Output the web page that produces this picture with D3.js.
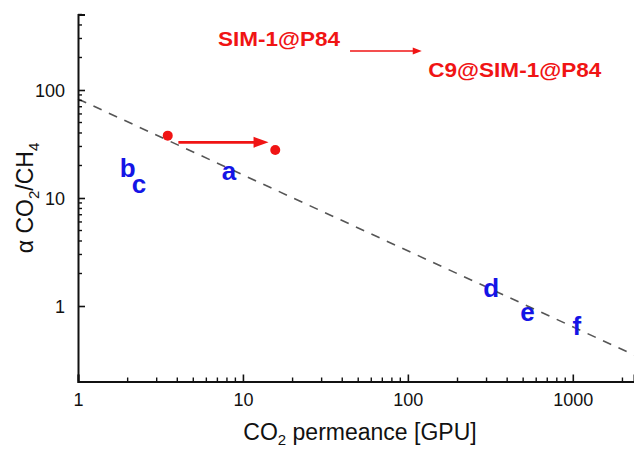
<!DOCTYPE html>
<html><head><meta charset="utf-8">
<script src="https://cdn.jsdelivr.net/npm/d3@7"></script>
<style>body{margin:0;background:#fff}svg{display:block}</style>
</head><body>
<svg id="chart" width="634" height="449"></svg>
<script>
// ---- data ----
const xDomain = [1, 2350];
const yDomain = [0.2, 500];
const xTickValues = [1, 10, 100, 1000];
const xTickLabels = ["1", "10", "100", "1000"];
const yTickValues = [1, 10, 100];
const yTickLabels = ["1", "10", "100"];
const xMinorTicks = [2,3,4,5,6,7,8,9,20,30,40,50,60,70,80,90,200,300,400,500,600,700,800,900,2000];
const yMinorTicks = [2,3,4,5,6,7,8,9,20,30,40,50,60,70,80,90,200,300,400,500];
// upper-bound trade-off line (dashed)
const trendP = [1, 2350];
const trendAlpha = [82.6, 0.352];
// SIM-1@P84 -> C9@SIM-1@P84 points
const pointP = [3.5, 15.7];
const pointAlpha = [37.8, 27.8];
const arrowP = [4.06, 14.3];
const arrowAlpha = [32.8, 32.8];
// literature labels
const labelNames = ["a", "b", "c", "d", "e", "f"];
const labelP = [8.24, 2.0, 2.34, 320, 532, 1057];
const labelAlpha = [14.7, 15.6, 11.1, 1.22, 0.72, 0.54];
// legend annotation
const legendFrom = "SIM-1@P84";
const legendTo = "C9@SIM-1@P84";
const legendFromPos = [7.06, 255];
const legendToPos = [133, 132.8];
const legendArrowP = [44.6, 121.4];
const legendArrowAlpha = [229.6, 229.6];

// ---- layout ----
const svg = d3.select("#chart");
const mLeft = 78, mRight = 634, mTop = 14.5, mBottom = 381.5;
const font = "'Liberation Sans', Arial, sans-serif";
const red = "#f01414";
const blue = "#1414e6";

const x = d3.scaleLog().domain(xDomain).range([mLeft, mRight]);
const y = d3.scaleLog().domain(yDomain).range([mBottom, mTop]);

// dashed trend line
const trend = trendP.map((p, i) => [p, trendAlpha[i]]);
svg.append("path")
  .attr("d", d3.line().x(d => x(d[0])).y(d => y(d[1]))(trend))
  .attr("fill", "none").attr("stroke", "#555").attr("stroke-width", 1.6)
  .attr("stroke-dasharray", "9,8");

// axes
const xAxis = d3.axisBottom(x).tickValues(xTickValues).tickSize(-7)
  .tickFormat((d, i) => xTickLabels[i]).tickPadding(12);
const gx = svg.append("g").attr("transform", `translate(0,${mBottom})`).call(xAxis);
const yAxis = d3.axisLeft(y).tickValues(yTickValues).tickSize(-7)
  .tickFormat((d, i) => yTickLabels[i]).tickPadding(13);
const gy = svg.append("g").attr("transform", `translate(${mLeft},0)`).call(yAxis);
[gx, gy].forEach(g => {
  g.select(".domain").attr("stroke", "#111").attr("stroke-width", 2);
  g.selectAll(".tick line").attr("stroke", "#111").attr("stroke-width", 1.6);
  g.selectAll(".tick text").attr("font-family", font).attr("font-size", 18).attr("fill", "#111");
});
gy.selectAll(".tick text").attr("dy", "0.35em");
gx.selectAll(".tick text").attr("dy", "0.71em");

// minor ticks
svg.append("g").selectAll("line").data(xMinorTicks).join("line")
  .attr("x1", d => x(d)).attr("x2", d => x(d))
  .attr("y1", mBottom).attr("y2", mBottom - 4)
  .attr("stroke", "#111").attr("stroke-width", 1.4);
svg.append("g").selectAll("line").data(yMinorTicks).join("line")
  .attr("x1", mLeft).attr("x2", mLeft + 4)
  .attr("y1", d => y(d)).attr("y2", d => y(d))
  .attr("stroke", "#111").attr("stroke-width", 1.4);

// axis titles
const xt = svg.append("text").attr("x", 360).attr("y", 440)
  .attr("text-anchor", "middle").attr("font-family", font).attr("font-size", 23).attr("fill", "#111");
xt.append("tspan").text("CO");
xt.append("tspan").text("2").attr("font-size", 15).attr("dy", 5);
xt.append("tspan").text(" permeance [GPU]").attr("dy", -5);

const yt = svg.append("text").attr("transform", "translate(33,198) rotate(-90)")
  .attr("text-anchor", "middle").attr("font-family", font).attr("font-size", 23).attr("fill", "#111");
yt.append("tspan").text("α CO");
yt.append("tspan").text("2").attr("font-size", 15).attr("dy", 6);
yt.append("tspan").text("/CH").attr("dy", -6);
yt.append("tspan").text("4").attr("font-size", 15).attr("dy", 6);

// red points
svg.append("g").selectAll("circle").data(pointP).join("circle")
  .attr("cx", d => x(d)).attr("cy", (d, i) => y(pointAlpha[i])).attr("r", 5)
  .attr("fill", red);

// arrow helper
function arrow(x1, y1, x2, y2, w, hl, hw) {
  svg.append("line").attr("x1", x1).attr("y1", y1).attr("x2", x2 - hl + 1).attr("y2", y2)
    .attr("stroke", red).attr("stroke-width", w);
  svg.append("path")
    .attr("d", `M${x2},${y2}L${x2 - hl},${y2 - hw}L${x2 - hl},${y2 + hw}Z`)
    .attr("fill", red);
}
arrow(x(arrowP[0]), y(arrowAlpha[0]), x(arrowP[1]), y(arrowAlpha[1]), 2.7, 15, 5.5);
arrow(x(legendArrowP[0]), y(legendArrowAlpha[0]), x(legendArrowP[1]), y(legendArrowAlpha[1]), 1.6, 9, 3.5);

// legend texts
svg.append("text").attr("x", x(legendFromPos[0])).attr("y", y(legendFromPos[1]))
  .attr("font-family", font).attr("font-weight", "bold").attr("font-size", 20)
  .attr("fill", red).attr("textLength", 122).attr("lengthAdjust", "spacingAndGlyphs")
  .text(legendFrom);
svg.append("text").attr("x", x(legendToPos[0])).attr("y", y(legendToPos[1]))
  .attr("font-family", font).attr("font-weight", "bold").attr("font-size", 21)
  .attr("fill", red).attr("textLength", 173).attr("lengthAdjust", "spacingAndGlyphs")
  .text(legendTo);

// blue letter labels
svg.append("g").selectAll("text").data(labelNames).join("text")
  .attr("x", (d, i) => x(labelP[i])).attr("y", (d, i) => y(labelAlpha[i]))
  .attr("text-anchor", "middle").attr("font-family", font).attr("font-weight", "bold")
  .attr("font-size", 26).attr("fill", blue).text(d => d);
</script>
</body></html>
